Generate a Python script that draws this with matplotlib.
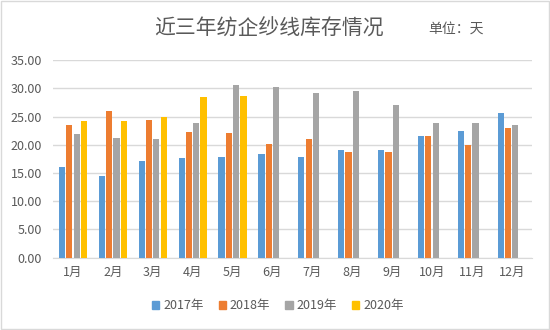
import numpy as np
import matplotlib.pyplot as plt
from matplotlib.patches import Rectangle

plt.rcParams['font.family'] = ['Noto Sans CJK SC', 'DejaVu Sans']

# 数据（单位：天）
months = ['1月', '2月', '3月', '4月', '5月', '6月', '7月', '8月', '9月', '10月', '11月', '12月']
years = ['2017年', '2018年', '2019年', '2020年']
y2017 = [16.0, 14.5, 17.1, 17.6, 17.8, 18.35, 17.9, 19.0, 19.0, 21.5, 22.4, 25.6]
y2018 = [23.5, 26.0, 24.4, 22.2, 22.1, 20.1, 20.95, 18.7, 18.7, 21.5, 19.9, 23.0]
y2019 = [21.9, 21.2, 21.1, 23.8, 30.6, 30.2, 29.1, 29.45, 27.1, 23.9, 23.9, 23.5]
y2020 = [24.2, 24.2, 24.9, 28.4, 28.7, np.nan, np.nan, np.nan, np.nan, np.nan, np.nan, np.nan]
yticks = [0, 5, 10, 15, 20, 25, 30, 35]

colors = ['#5B9BD5', '#ED7D31', '#A5A5A5', '#FFC000']
series = [y2017, y2018, y2019, y2020]

fig = plt.figure(figsize=(5.5, 3.3), dpi=100)
ax = fig.add_axes([0.0964, 0.219, 0.8703, 0.599])

x = np.arange(len(months))
pitch = 0.183
width = 0.155
for i, (vals, c, lab) in enumerate(zip(series, colors, years)):
    ax.bar(x + (i - 1.5) * pitch, vals, width=width, color=c, label=lab, zorder=3)

ax.set_xlim(-0.5, len(months) - 0.5)
ax.set_ylim(0, 35)
ax.set_yticks(yticks)
ax.set_yticklabels([f'{v:.2f}' for v in yticks])
ax.set_xticks(x)
ax.set_xticklabels(months)
ax.tick_params(axis='both', length=0, labelsize=9, colors='#595959')
ax.tick_params(axis='y', pad=8)
ax.tick_params(axis='x', pad=6)
ax.grid(axis='y', color='#D9D9D9', linewidth=1, zorder=0)
for s in ['top', 'right', 'left']:
    ax.spines[s].set_visible(False)
ax.spines['bottom'].set_color('#D9D9D9')

fig.text(0.489, 0.912, '近三年纺企纱线库存情况', ha='center', va='center',
         fontsize=15, color='#595959')
fig.text(0.829, 0.912, '单位：天', ha='center', va='center',
         fontsize=10, color='#595959')

handles = [Rectangle((0, 0), 1, 1, color=c) for c in colors]
fig.legend(handles, years, loc='center', bbox_to_anchor=(0.505, 0.073), ncol=4,
           frameon=False, fontsize=9, labelcolor='#595959',
           handlelength=0.6, handleheight=0.6, handletextpad=0.3, columnspacing=1.2)

# 外框
fig.patches.append(Rectangle((0.002, 0.004), 0.996, 0.993, transform=fig.transFigure,
                             fill=False, edgecolor='#D9D9D9', linewidth=1))

fig.savefig('out.png', dpi=100)
